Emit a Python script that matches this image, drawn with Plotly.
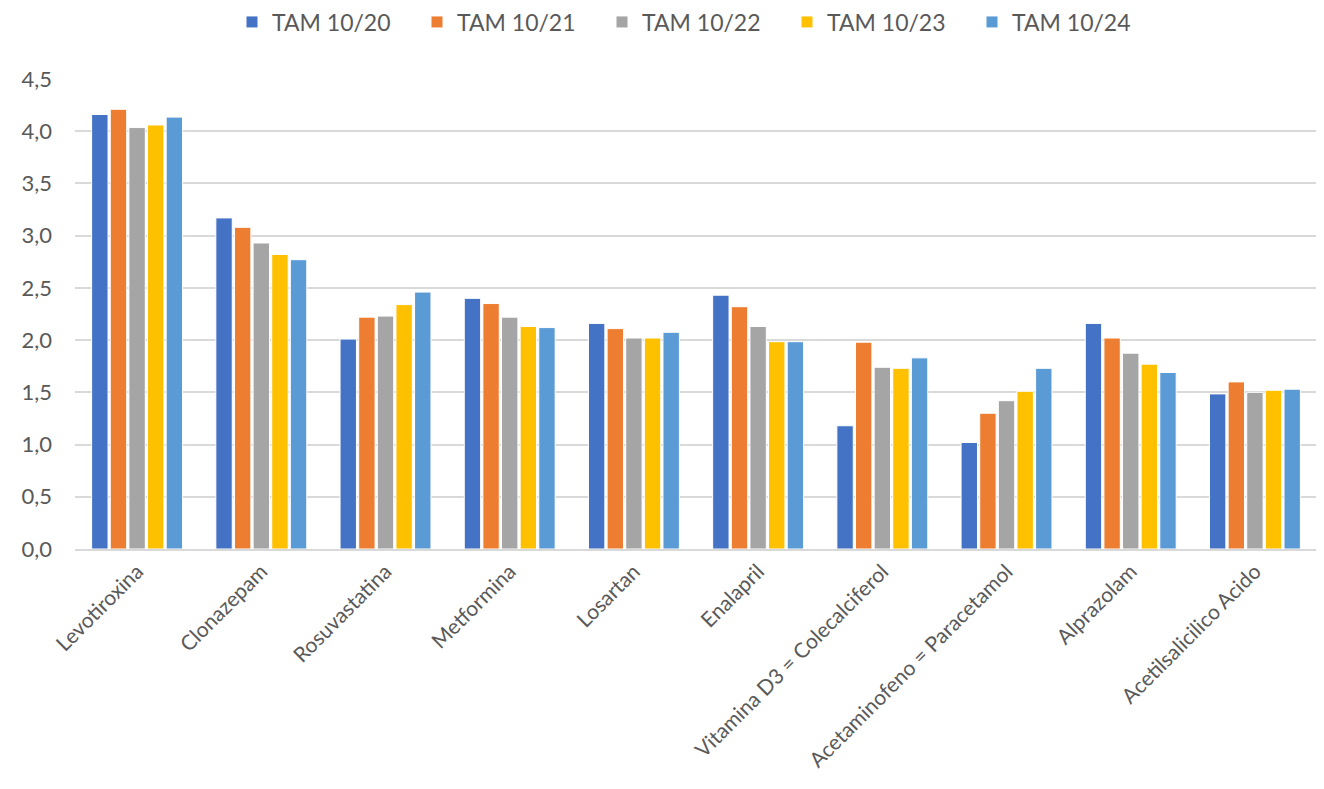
import plotly.graph_objects as go

categories = ["Levotiroxina", "Clonazepam", "Rosuvastatina", "Metformina", "Losartan",
              "Enalapril", "Vitamina D3 = Colecalciferol", "Acetaminofeno = Paracetamol",
              "Alprazolam", "Acetilsalicilico Acido"]
series_names = ["TAM 10/20", "TAM 10/21", "TAM 10/22", "TAM 10/23", "TAM 10/24"]
tam_10_20 = [4.16, 3.17, 2.01, 2.40, 2.16, 2.43, 1.18, 1.02, 2.16, 1.485]
tam_10_21 = [4.21, 3.08, 2.22, 2.35, 2.11, 2.32, 1.98, 1.30, 2.02, 1.60]
tam_10_22 = [4.035, 2.93, 2.23, 2.22, 2.02, 2.13, 1.74, 1.42, 1.875, 1.50]
tam_10_23 = [4.06, 2.82, 2.34, 2.13, 2.02, 1.985, 1.73, 1.51, 1.77, 1.52]
tam_10_24 = [4.135, 2.77, 2.46, 2.12, 2.075, 1.985, 1.83, 1.73, 1.69, 1.53]
colors = ["#4472C4", "#ED7D31", "#A5A5A5", "#FFC000", "#5B9BD5"]
y_ticks = [0, 0.5, 1.0, 1.5, 2.0, 2.5, 3.0, 3.5, 4.0, 4.5]
y_tick_labels = ["0,0", "0,5", "1,0", "1,5", "2,0", "2,5", "3,0", "3,5", "4,0", "4,5"]

all_series = [tam_10_20, tam_10_21, tam_10_22, tam_10_23, tam_10_24]

fig = go.Figure()
for name, vals, col in zip(series_names, all_series, colors):
    fig.add_trace(go.Bar(
        x=categories, y=vals, name=name,
        marker=dict(color=col, line=dict(color="white", width=1)),
    ))

font_family = "Lato, Open Sans, Liberation Sans, sans-serif"
fig.update_layout(
    width=1316, height=781,
    margin=dict(l=67, r=0, t=71, b=240, autoexpand=False),
    paper_bgcolor="white", plot_bgcolor="white",
    barmode="group", bargap=0.25, bargroupgap=0.12,
    font=dict(family=font_family, color="#595959", size=21),
    legend=dict(orientation="h", x=0.496, xanchor="center", y=(541 - 14) / 470, yanchor="middle",
                font=dict(size=23, color="#595959"), itemwidth=30, traceorder="normal",
                entrywidth=140, entrywidthmode="pixels"),
    yaxis=dict(range=[0, 4.5], tickvals=y_ticks, ticktext=y_tick_labels,
               showgrid=True, gridcolor="#D9D9D9", gridwidth=2,
               zeroline=False, showline=False, ticks="", ticklen=0, automargin=False,
               ticklabelstandoff=22,
               tickfont=dict(size=22, color="#595959")),
    xaxis=dict(tickangle=-45, showline=True, linecolor="#D9D9D9", linewidth=2,
               range=[-0.5, 9.556],
               ticks="", automargin=False, tickfont=dict(size=21, color="#595959")),
)

fig.write_html("out.html")
